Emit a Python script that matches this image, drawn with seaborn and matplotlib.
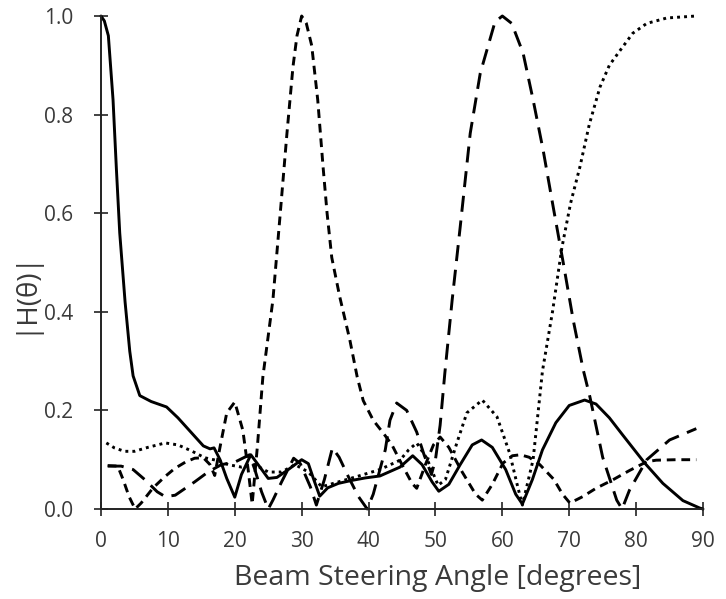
import numpy as np
import matplotlib
matplotlib.use("Agg")
import matplotlib.pyplot as plt
import seaborn as sns
import pandas as pd

# Beam at 0 deg (solid)
solid_x = [0, 0.5, 1.1, 1.8, 2.3, 2.8, 3.6, 4.3, 4.8, 5.8, 7.5, 9.8, 11.5, 13.5, 15.3, 16.3, 16.9,
           17.8, 18.8, 20.0, 21.0, 22.4, 23.6, 25.0, 26.3, 28.0, 30.0, 31.0, 31.8, 32.7, 33.9, 35.5,
           37.5, 39.5, 41.7, 44.7, 46.6, 48.0, 49.5, 50.5, 52.0, 53.7, 55.5, 56.9, 58.5, 60.5, 62.0,
           63.0, 64.5, 66.0, 68.0, 70.0, 72.3, 74.0, 76.0, 78.0, 81.3, 84.0, 87.0, 89.5, 90]
solid_y = [1.0, 0.99, 0.96, 0.83, 0.69, 0.56, 0.42, 0.32, 0.27, 0.23, 0.218, 0.207, 0.185, 0.155,
           0.128, 0.122, 0.124, 0.10, 0.062, 0.024, 0.07, 0.11, 0.088, 0.062, 0.064, 0.08, 0.10,
           0.092, 0.06, 0.026, 0.043, 0.052, 0.058, 0.063, 0.067, 0.085, 0.108, 0.09, 0.055, 0.036,
           0.05, 0.09, 0.13, 0.14, 0.125, 0.08, 0.03, 0.01, 0.06, 0.12, 0.175, 0.21, 0.221, 0.213,
           0.185, 0.15, 0.093, 0.052, 0.017, 0.002, 0.0]

# Beam at 30 deg (short dash)
b30_x = [1.0, 2.5, 3.3, 4.2, 5.1, 6.0, 7.8, 9.5, 11.0, 12.6, 14.0, 15.3, 16.3, 17.0, 17.8, 18.8,
         20.0, 21.2, 22.0, 22.6, 23.4, 24.2, 25.7, 26.8, 27.8, 28.7, 29.3, 30.0, 30.7, 31.5, 32.4,
         33.2, 33.8, 34.5, 35.7, 37.2, 38.3, 39.2, 40.7, 42.2, 43.5, 45.0, 46.5, 47.2, 48.5, 49.7,
         50.7, 52.0, 54.0, 56.0, 57.0, 58.5, 60.1, 61.5, 62.7, 64.0, 65.6, 67.7, 69.0, 70.1, 72.0,
         74.0, 76.5, 79.0, 81.6, 83.0, 86.0, 89.0]
b30_y = [0.088, 0.087, 0.06, 0.025, 0.0, 0.012, 0.043, 0.065, 0.082, 0.095, 0.103, 0.104, 0.09,
         0.068, 0.126, 0.195, 0.217, 0.16, 0.08, 0.01, 0.13, 0.268, 0.424, 0.60, 0.762, 0.897, 0.96,
         1.0, 0.985, 0.94, 0.83, 0.694, 0.60, 0.51, 0.43, 0.343, 0.268, 0.22, 0.18, 0.154, 0.13,
         0.09, 0.052, 0.042, 0.09, 0.13, 0.146, 0.125, 0.075, 0.03, 0.018, 0.05, 0.093, 0.108, 0.11,
         0.105, 0.09, 0.06, 0.03, 0.012, 0.025, 0.042, 0.059, 0.078, 0.096, 0.099, 0.10, 0.10]

# Beam at 60 deg (long dash)
b60_x = [1.0, 3.0, 4.8, 6.6, 8.4, 9.6, 11.1, 14.0, 16.0, 18.0, 20.0, 22.2, 23.0, 24.0, 25.0, 25.7,
         27.0, 28.8, 29.8, 31.3, 32.2, 33.4, 34.6, 35.6, 37.0, 38.5, 39.8, 40.7, 42.5, 43.2, 44.2,
         45.7, 47.2, 48.3, 49.4, 50.0, 50.7, 51.4, 52.5, 53.7, 55.2, 56.7, 58.9, 60.0, 61.4, 63.1,
         64.6, 66.1, 67.6, 69.1, 70.6, 72.1, 73.1, 75.0, 77.1, 77.9, 79.0, 81.6, 85.0, 89.0]
b60_y = [0.087, 0.087, 0.08, 0.059, 0.035, 0.025, 0.028, 0.055, 0.075, 0.09, 0.095, 0.11, 0.08,
         0.035, 0.0, 0.018, 0.055, 0.103, 0.092, 0.045, 0.008, 0.06, 0.124, 0.105, 0.065, 0.025,
         0.0, 0.03, 0.12, 0.18, 0.215, 0.2, 0.156, 0.11, 0.07, 0.1, 0.17, 0.275, 0.424, 0.572,
         0.762, 0.884, 0.988, 1.0, 0.985, 0.925, 0.83, 0.728, 0.613, 0.50, 0.383, 0.282, 0.227,
         0.105, 0.018, 0.0, 0.038, 0.10, 0.14, 0.163]

# Beam at 90 deg (dotted)
b90_x = [0.8, 2.0, 3.5, 5.0, 7.0, 9.6, 11.5, 13.5, 15.5, 17.5, 19.0, 21.0, 23.0, 25.0, 27.0, 29.0,
         31.0, 33.0, 35.0, 38.3, 41.7, 44.7, 46.0, 47.2, 48.7, 50.4, 51.5, 53.2, 54.7, 57.0, 59.2,
         61.1, 62.3, 63.0, 64.6, 66.0, 67.5, 68.9, 70.2, 71.6, 73.0, 74.6, 76.0, 77.6, 79.5, 81.6,
         84.6, 89.0]
b90_y = [0.134, 0.124, 0.117, 0.117, 0.125, 0.134, 0.13, 0.118, 0.104, 0.098, 0.09, 0.085, 0.09,
         0.075, 0.075, 0.09, 0.075, 0.045, 0.053, 0.066, 0.08, 0.099, 0.12, 0.134, 0.103, 0.048,
         0.06, 0.134, 0.195, 0.221, 0.187, 0.113, 0.045, 0.008, 0.10, 0.28, 0.40, 0.53, 0.62,
         0.694, 0.78, 0.856, 0.90, 0.93, 0.965, 0.985, 0.996, 1.0]

x_ticks = [0, 10, 20, 30, 40, 50, 60, 70, 80, 90]
y_ticks = [0.0, 0.2, 0.4, 0.6, 0.8, 1.0]

sns.set_theme(style="ticks")
plt.rcParams['font.family'] = ['Open Sans', 'DejaVu Sans']
text_col = '#3a3a3a'

fig = plt.figure(figsize=(7.26, 5.99), dpi=100)
ax = fig.add_axes([101 / 726, 1 - 509 / 599, 602 / 726, 493 / 599])

series = [
    (solid_x, solid_y, '-'),
    (b30_x, b30_y, (0, (3, 2))),
    (b60_x, b60_y, (0, (5.5, 3))),
    (b90_x, b90_y, (0, (1, 1.4))),
]
for xs, ys, ls in series:
    df = pd.DataFrame({'angle': xs, 'h': ys})
    sns.lineplot(data=df, x='angle', y='h', ax=ax, color='black', linewidth=2.1,
                 linestyle=ls, clip_on=False)

ax.set_xlim(0, 90)
ax.set_ylim(0, 1.0)
ax.set_xticks(x_ticks)
ax.set_xticklabels([str(v) for v in x_ticks])
ax.set_yticks(y_ticks)
ax.set_yticklabels([f"{v:.1f}" for v in y_ticks])
sns.despine(ax=ax)
for s in ['left', 'bottom']:
    ax.spines[s].set_linewidth(1.4)
    ax.spines[s].set_color('#222222')
ax.tick_params(direction='inout', length=10, width=1.2, color='#222222',
               labelsize=15, labelcolor=text_col)
ax.tick_params(axis='x', pad=11)
ax.tick_params(axis='y', pad=15)

ax.set_xlabel('Beam Steering Angle [degrees]', fontsize=20.5, color=text_col, va='center')
ax.xaxis.set_label_coords(0.56, (509 - 578) / 493)
ax.set_ylabel('|H(θ)|', fontsize=20, color=text_col, va='center')
ax.yaxis.set_label_coords((24 - 101) / 602, (509 - 292) / 493)

fig.savefig('out.png', dpi=100)
